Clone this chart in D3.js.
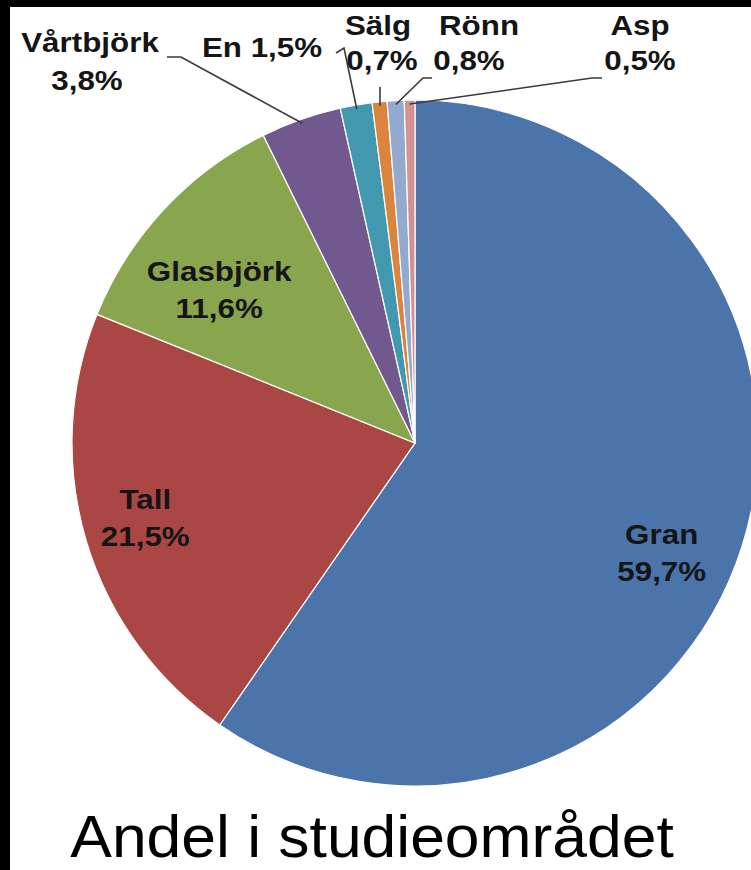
<!DOCTYPE html>
<html>
<head>
<meta charset="utf-8">
<script src="https://cdn.jsdelivr.net/npm/d3@7"></script>
<style>
  html, body { margin: 0; padding: 0; background: #fff; }
  svg { display: block; }
  text { font-family: "Liberation Sans", Arial, sans-serif; }
</style>
</head>
<body>
<div id="chart"></div>
<script>
// data
var species = ["Gran", "Tall", "Glasbjörk", "Vårtbjörk", "En", "Sälg", "Rönn", "Asp"];
var shares = [59.7, 21.5, 11.6, 3.8, 1.5, 0.7, 0.8, 0.5];
var colors = ["#4a74aa", "#aa4643", "#89a54e", "#71588f", "#4198af", "#db843d", "#93a9cf", "#d19392"];
var title = "Andel i studieområdet";

var width = 751, height = 870;
var cx = 415, cy = 443, R = 343;

var svg = d3.select("#chart").append("svg")
    .attr("width", width)
    .attr("height", height);

svg.append("rect").attr("width", width).attr("height", height).attr("fill", "#fff");
// black frame top and left
svg.append("rect").attr("width", width).attr("height", 7).attr("fill", "#000");
svg.append("rect").attr("width", 10).attr("height", height).attr("fill", "#000");

var data = species.map((s, i) => ({name: s, value: shares[i], color: colors[i]}));

var pie = d3.pie().sort(null).value(d => d.value);
var arcs = pie(data);

var arc = d3.arc().innerRadius(0).outerRadius(R);
var edgeArc = d3.arc().innerRadius(R - 4).outerRadius(R - 4);
var labelArc = d3.arc().innerRadius(270).outerRadius(270);

var g = svg.append("g").attr("transform", `translate(${cx},${cy})`);

g.selectAll(".slice")
    .data(arcs)
    .enter()
    .append("path")
    .attr("class", "slice")
    .attr("d", arc)
    .attr("fill", d => d.data.color)
    .attr("stroke", "#fff")
    .attr("stroke-width", 1.2);

function pct(v) { return v.toFixed(1).replace(".", ",") + "%"; }

var sx = 1.12; // glyphs in the picture are a bit wider than Arial
function label(x, y, str, size, weight, fill) {
    svg.append("text")
        .attr("transform", `translate(${x},${y}) scale(${sx},1)`)
        .attr("text-anchor", "middle")
        .attr("font-size", size)
        .attr("font-weight", weight)
        .attr("fill", fill)
        .text(str);
}

// labels inside the big slices, nudged from centroid like Excel does
var insideNudge = {"Gran": [-11, 20], "Tall": [-11, -11], "Glasbjörk": [2, 22]};
arcs.filter(d => insideNudge[d.data.name]).forEach(d => {
    var c = labelArc.centroid(d);
    var n = insideNudge[d.data.name];
    var x = cx + c[0] + n[0], y = cy + c[1] + n[1];
    label(x, y, d.data.name, 28, "bold", "#151515");
    label(x, y + 37, pct(d.data.value), 28, "bold", "#151515");
});

// outside labels with leader lines (layout only)
var outside = {
    "Vårtbjörk": {lines: [[90, 52], [87, 90]], lead: [[167, 57], [181, 57]]},
    "En":        {lines: [[262, 57]], lead: [[336, 53], [344, 48]]},
    "Sälg":      {lines: [[378, 35], [382, 70]], lead: [[380, 87]]},
    "Rönn":      {lines: [[479, 35], [469, 70]], lead: [[432, 78], [423, 78]]},
    "Asp":       {lines: [[640, 35], [640, 70]], lead: [[602, 78], [592, 78]]}
};

var line = d3.line();
arcs.filter(d => outside[d.data.name]).forEach(d => {
    var o = outside[d.data.name];
    var e = edgeArc.centroid(d);
    var pts = o.lead.concat([[cx + e[0], cy + e[1]]]);
    svg.append("path")
        .attr("d", line(pts))
        .attr("fill", "none")
        .attr("stroke", "#3a3a3a")
        .attr("stroke-width", 1.6);
    if (o.lines.length == 1) {
        label(o.lines[0][0], o.lines[0][1], d.data.name + " " + pct(d.data.value), 28, "bold", "#151515");
    } else {
        label(o.lines[0][0], o.lines[0][1], d.data.name, 28, "bold", "#151515");
        label(o.lines[1][0], o.lines[1][1], pct(d.data.value), 28, "bold", "#151515");
    }
});

svg.append("text")
    .attr("transform", "translate(372,857) scale(1.04,1)")
    .attr("text-anchor", "middle")
    .attr("font-size", 60)
    .attr("fill", "#000")
    .text(title);
</script>
</body>
</html>
